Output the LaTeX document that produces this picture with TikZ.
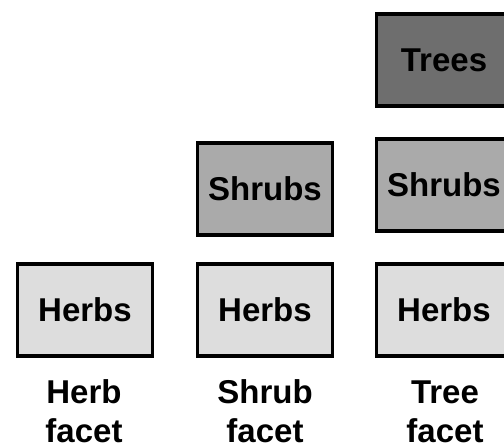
\documentclass[tikz,border=0pt]{standalone}
\usepackage{fontspec}
\setmainfont{Liberation Sans}
\begin{document}
\begin{tikzpicture}[x=1pt,y=-1pt,
  layer/.style={draw=black,line width=3.5pt,minimum width=135pt,minimum height=92pt,
    inner sep=0pt,font=\bfseries\fontsize{33}{38}\selectfont},
  herb/.style={layer,fill=herbfill},
  shrub/.style={layer,fill=shrubfill},
  tree/.style={layer,fill=treefill},
  facet/.style={align=center,inner sep=0pt,anchor=base,font=\bfseries\fontsize{33}{39}\selectfont}]
\definecolor{herbfill}{HTML}{DDDDDD}
\definecolor{shrubfill}{HTML}{AAAAAA}
\definecolor{treefill}{HTML}{6E6E6E}
\useasboundingbox (0,0) rectangle (504,445);
\clip (0,0) rectangle (504,445);
% herb facet
\node[herb] (h1) at (85,310) {Herbs};
% shrub facet
\node[herb] (h2) at (265,310) {Herbs};
\node[shrub] (s2) at (265,189) {Shrubs};
% tree facet
\node[herb] (h3) at (444,310) {Herbs};
\node[shrub] (s3) at (444,185) {Shrubs};
\node[tree] (t3) at (444,60) {Trees};
% facet captions (base anchor sits on the last line)
\node[facet] (c1) at (84,442) {Herb\\facet};
\node[facet] (c2) at (265,442) {Shrub\\facet};
\node[facet] (c3) at (445,442) {Tree\\facet};
\end{tikzpicture}
\end{document}
